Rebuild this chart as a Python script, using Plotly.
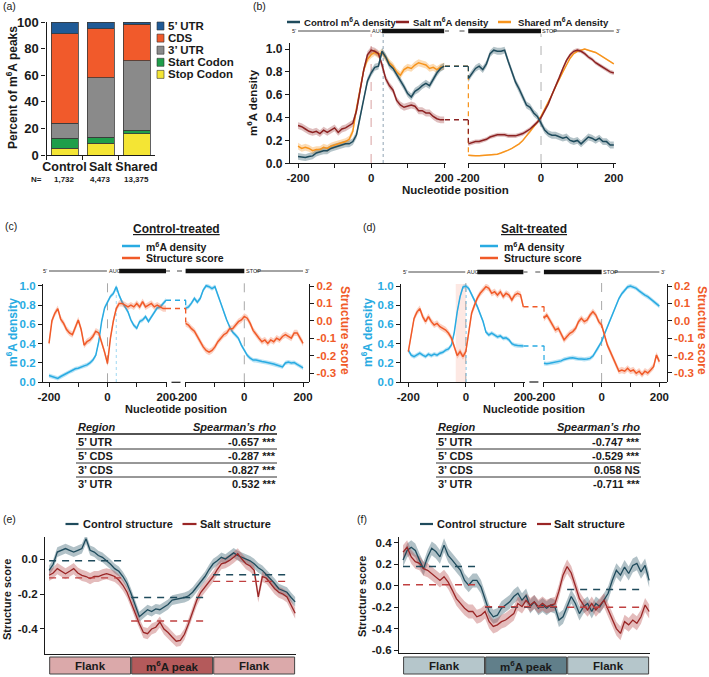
import plotly.graph_objects as go

W, H = 709, 677
FONT = "Liberation Sans, Arial, Helvetica, sans-serif"


def PX(x):
    return x / W


def PY(y):
    return 1 - y / H


# ======================= DATA =======================
# (a) percent of m6A peaks per region
a_groups = ["Control", "Salt", "Shared"]
a_counts = ["1,732", "4,473", "13,375"]
a_stop_codon = [5, 9, 16]
a_start_codon = [7.5, 4.5, 2.5]
a_utr3 = [11.5, 44.5, 52.5]
a_cds = [67, 37, 27.5]
a_utr5 = [9, 5, 1.5]

# (b)-(d) metagene positions
pos = list(range(-200, 201, 10))

# (b) m6A density
b_ctrl_left = [0.06, 0.055, 0.05, 0.06, 0.065, 0.09, 0.10, 0.11, 0.11, 0.13,
               0.14, 0.15, 0.16, 0.17, 0.17, 0.19, 0.25, 0.40, 0.58, 0.72,
               0.79, 0.84, 0.85, 0.98, 0.93, 0.86, 0.83, 0.78, 0.72, 0.67,
               0.61, 0.58, 0.63, 0.65, 0.68, 0.70, 0.68, 0.74, 0.79, 0.83, 0.85]
b_salt_left = [0.33, 0.32, 0.30, 0.28, 0.27, 0.28, 0.26, 0.29, 0.27, 0.29,
               0.31, 0.27, 0.30, 0.31, 0.33, 0.35, 0.46, 0.63, 0.82, 0.95,
               0.99, 0.98, 0.96, 0.86, 0.74, 0.68, 0.64, 0.55, 0.51, 0.49,
               0.50, 0.51, 0.50, 0.46, 0.46, 0.44, 0.44, 0.41, 0.39, 0.38, 0.38]
b_shared_left = [0.15, 0.13, 0.14, 0.13, 0.11, 0.12, 0.12, 0.14, 0.13, 0.15,
                 0.16, 0.17, 0.18, 0.19, 0.21, 0.28, 0.48, 0.66, 0.82, 0.91,
                 0.95, 0.97, 0.95, 0.97, 0.92, 0.88, 0.85, 0.80, 0.77, 0.82,
                 0.84, 0.83, 0.86, 0.88, 0.87, 0.86, 0.83, 0.84, 0.82, 0.84, 0.85]
b_ctrl_right = [0.74, 0.79, 0.83, 0.85, 0.82, 0.87, 0.96, 0.99, 0.98, 0.98,
                0.99, 0.89, 0.80, 0.71, 0.65, 0.58, 0.51, 0.49, 0.44, 0.41,
                0.35, 0.29, 0.26, 0.245, 0.245, 0.23, 0.22, 0.23, 0.20, 0.19,
                0.20, 0.17, 0.20, 0.23, 0.22, 0.20, 0.22, 0.19, 0.19, 0.16, 0.16]
b_salt_right = [0.17, 0.18, 0.19, 0.19, 0.20, 0.21, 0.23, 0.24, 0.25, 0.25,
                0.25, 0.24, 0.24, 0.24, 0.25, 0.26, 0.28, 0.30, 0.33, 0.36,
                0.40, 0.46, 0.52, 0.60, 0.67, 0.75, 0.83, 0.90, 0.95, 0.98,
                0.99, 0.98, 0.96, 0.93, 0.91, 0.88, 0.86, 0.84, 0.82, 0.80, 0.79]
b_shared_right = [0.07, 0.066, 0.065, 0.066, 0.068, 0.07, 0.072, 0.076, 0.08, 0.09,
                  0.10, 0.115, 0.13, 0.15, 0.17, 0.20, 0.24, 0.27, 0.31, 0.36,
                  0.41, 0.47, 0.53, 0.60, 0.67, 0.74, 0.80, 0.86, 0.92, 0.96,
                  0.98, 0.99, 1.0, 0.99, 0.98, 0.97, 0.95, 0.93, 0.91, 0.89, 0.87]
b_ctrl_err, b_salt_err, b_shared_err = 0.03, 0.03, 0.03

# (c) control-treated
c_m6a_left = [0.07, 0.06, 0.05, 0.04, 0.06, 0.076, 0.09, 0.11, 0.12, 0.14,
              0.145, 0.16, 0.17, 0.18, 0.20, 0.23, 0.28, 0.42, 0.63, 0.77,
              0.83, 0.89, 0.92, 0.99, 0.90, 0.83, 0.78, 0.73, 0.645, 0.59,
              0.56, 0.63, 0.645, 0.68, 0.63, 0.68, 0.73, 0.77, 0.78, 0.82, 0.85]
c_str_left = [-0.13, 0.0, 0.043, 0.07, 0.01, -0.015, -0.05, -0.07, -0.08, -0.04,
              0.005, -0.05, -0.14, -0.12, -0.11, -0.09, -0.06, -0.07, -0.12, -0.18,
              -0.245, -0.10, 0.0, 0.07, 0.10, 0.10, 0.09, 0.08, 0.09, 0.08,
              0.10, 0.08, 0.11, 0.08, 0.09, 0.10, 0.08, 0.09, 0.08, 0.07, 0.07]
c_m6a_right = [0.765, 0.78, 0.82, 0.87, 0.83, 0.87, 0.955, 1.0, 0.99, 0.97,
               0.99, 0.90, 0.83, 0.73, 0.645, 0.575, 0.52, 0.49, 0.455, 0.385,
               0.335, 0.28, 0.25, 0.23, 0.23, 0.22, 0.215, 0.21, 0.205, 0.20,
               0.19, 0.18, 0.17, 0.16, 0.20, 0.21, 0.20, 0.205, 0.185, 0.17, 0.15]
c_str_right = [-0.015, -0.025, -0.045, -0.06, -0.09, -0.12, -0.15, -0.17, -0.18, -0.17,
               -0.15, -0.12, -0.10, -0.08, -0.07, -0.045, -0.045, -0.025, -0.005, 0.005,
               0.025, 0.015, -0.015, -0.055, -0.08, -0.10, -0.12, -0.11, -0.13, -0.11,
               -0.12, -0.10, -0.11, -0.09, -0.08, -0.09, -0.10, -0.07, -0.07, -0.10, -0.13]

# (d) salt-treated
d_m6a_left = [0.333, 0.28, 0.264, 0.28, 0.30, 0.28, 0.264, 0.29, 0.275, 0.29,
              0.28, 0.30, 0.31, 0.333, 0.344, 0.385, 0.52, 0.73, 0.89, 0.99,
              1.0, 0.975, 0.92, 0.85, 0.785, 0.715, 0.63, 0.52, 0.49, 0.51,
              0.49, 0.47, 0.48, 0.455, 0.46, 0.44, 0.40, 0.385, 0.38, 0.375, 0.375]
d_str_left = [-0.177, -0.08, 0.014, 0.05, 0.07, 0.024, -0.005, 0.024, -0.005, -0.024,
              -0.015, -0.034, -0.043, -0.053, -0.072, -0.10, -0.15, -0.20, -0.177, -0.206,
              -0.177, -0.08, 0.043, 0.09, 0.13, 0.158, 0.177, 0.196, 0.187, 0.158,
              0.167, 0.148, 0.167, 0.139, 0.158, 0.148, 0.12, 0.148, 0.158, 0.15, 0.08]
d_m6a_right = [0.195, 0.19, 0.195, 0.20, 0.205, 0.21, 0.22, 0.235, 0.246, 0.25,
               0.253, 0.245, 0.24, 0.24, 0.236, 0.24, 0.246, 0.27, 0.316, 0.36,
               0.42, 0.50, 0.576, 0.655, 0.733, 0.80, 0.87, 0.92, 0.958, 0.99,
               1.0, 0.99, 0.976, 0.95, 0.924, 0.905, 0.889, 0.865, 0.837, 0.81, 0.79]
d_str_right = [0.014, 0.033, 0.005, -0.024, -0.053, -0.043, -0.08, -0.11, -0.09, -0.072,
               -0.062, -0.043, -0.005, 0.014, -0.005, 0.005, 0.033, 0.052, 0.033, -0.005,
               -0.024, -0.08, -0.14, -0.177, -0.216, -0.254, -0.29, -0.283, -0.29, -0.273,
               -0.29, -0.283, -0.302, -0.29, -0.31, -0.29, -0.30, -0.283, -0.264, -0.197, -0.235]
cd_m6a_err, cd_str_err = 0.022, 0.018

# tables
tbl_regions = ["5’ UTR", "5’ CDS", "3’ CDS", "3’ UTR"]
tbl_ctrl_rho = [-0.657, -0.287, -0.827, 0.532]
tbl_ctrl_sig = ["***", "***", "***", "***"]
tbl_salt_rho = [-0.747, -0.529, 0.058, -0.711]
tbl_salt_sig = ["***", "***", "NS", "***"]

# (e)/(f) structure around m6A peaks
ef_pos = list(range(0, 301, 5))
ef_regions = [("Flank", 0, 100), ("m<sup>6</sup>A peak", 100, 200), ("Flank", 200, 300)]
e_ctrl = [-0.065, -0.03, 0.04, 0.05, 0.06, 0.05, 0.04, 0.05, 0.06, 0.116,
          0.05, 0.04, 0.02, 0.01, -0.008, -0.03, -0.055, -0.07, -0.10, -0.14,
          -0.198, -0.27, -0.33, -0.31, -0.29, -0.30, -0.285, -0.29, -0.275, -0.26,
          -0.235, -0.23, -0.225, -0.22, -0.21, -0.19, -0.16, -0.13, -0.10, -0.06,
          -0.027, -0.01, 0.01, 0.0, 0.02, 0.035, 0.02, 0.01, 0.002, -0.01,
          -0.027, -0.05, -0.065, -0.09, -0.11, -0.14, -0.17, -0.18, -0.19, -0.22, -0.245]
e_salt = [-0.093, -0.08, -0.055, -0.07, -0.084, -0.07, -0.055, -0.08, -0.093, -0.10,
          -0.112, -0.10, -0.10, -0.09, -0.084, -0.09, -0.10, -0.12, -0.15, -0.19,
          -0.246, -0.31, -0.37, -0.42, -0.427, -0.40, -0.39, -0.36, -0.40, -0.42,
          -0.446, -0.47, -0.465, -0.43, -0.37, -0.30, -0.236, -0.19, -0.16, -0.13,
          -0.10, -0.06, -0.027, -0.02, -0.008, 0.01, 0.03, 0.0, -0.027, -0.04,
          -0.065, -0.217, -0.10, -0.11, -0.14, -0.17, -0.19, -0.20, -0.217, -0.26, -0.31]
e_ctrl_mean = [-0.01, -0.22, -0.09]
e_salt_mean = [-0.108, -0.354, -0.128]
e_ctrl_err, e_salt_err = 0.028, 0.032

f_ctrl = [0.24, 0.33, 0.36, 0.33, 0.24, 0.16, 0.27, 0.35, 0.32, 0.27,
          0.38, 0.285, 0.24, 0.19, 0.145, 0.05, 0.005, 0.05, 0.05, -0.01,
          -0.135, -0.24, -0.29, -0.275, -0.21, -0.18, -0.15, -0.10, -0.07, -0.135,
          -0.09, -0.195, -0.15, -0.21, -0.18, -0.21, -0.18, -0.195, -0.32, -0.29,
          -0.195, -0.10, -0.165, -0.26, -0.195, -0.165, -0.24, -0.165, -0.195, -0.135,
          -0.07, 0.05, 0.145, 0.10, 0.175, 0.115, 0.19, 0.21, 0.13, 0.19, 0.05]
f_salt = [0.315, 0.36, 0.27, 0.225, 0.21, 0.16, 0.145, 0.115, 0.085, 0.05,
          0.085, 0.035, -0.04, -0.12, -0.165, -0.21, -0.24, -0.24, -0.29, -0.275,
          -0.24, -0.335, -0.38, -0.365, -0.335, -0.32, -0.29, -0.26, -0.165, -0.195,
          -0.135, -0.18, -0.15, -0.195, -0.165, -0.195, -0.18, -0.17, -0.05, 0.10,
          0.18, 0.12, 0.0, -0.12, -0.18, -0.225, -0.165, -0.225, -0.18, -0.135,
          -0.225, -0.305, -0.40, -0.445, -0.335, -0.365, -0.32, -0.35, -0.29, -0.18, -0.24]
f_ctrl_mean = [0.18, -0.2, -0.035]
f_salt_mean = [0.01, -0.196, -0.2]
f_ctrl_err, f_salt_err = 0.065, 0.065

# ======================= STYLE =======================
C_UTR5, C_CDS, C_UTR3, C_START, C_STOP = "#1f5a96", "#f15a2b", "#8a8a8a", "#1f9e4a", "#f4e534"
TEAL, TEAL_B = "#1f4b5c", "rgba(31,75,92,0.33)"
DRED, DRED_B = "#8c2222", "rgba(150,40,40,0.30)"
ORNG, ORNG_B = "#f7941d", "rgba(247,148,29,0.33)"
BLUE, BLUE_B = "#29abe2", "rgba(41,171,226,0.33)"
RORG, RORG_B = "#f05a28", "rgba(240,90,40,0.28)"
EF_TEAL_B, EF_RED_B = "rgba(60,100,115,0.40)", "rgba(185,80,80,0.38)"
EF_RED = "#9a2626"
BLACK = "#1a1a1a"

# layout boxes (pixels)
A_X, A_Y = (46.5, 154.5), (22, 155)
B_XL, B_XR, B_Y = (290, 446), (467.5, 616), (43.3, 163.3)
C_XL, C_XR, C_Y = (43, 167), (185, 309), (284, 382.3)
D_XL, D_XR, D_Y = (401, 524.5), (543.3, 666.7), (284, 382)
E_X, E_Y = (45, 296), (537, 654)
F_X, F_Y = (399, 650), (537, 653)


def dx(p):
    return [PX(p[0]), PX(p[1])]


def dy(p):
    return [PY(p[1]), PY(p[0])]


fig = go.Figure()
shapes = []
anns = []


def text(x, y, s, size=11, color=BLACK, xanchor="center", yanchor="middle", angle=0,
         bold=True, italic=False, xref="paper", yref="paper"):
    if bold:
        s = "<b>" + s + "</b>"
    if italic:
        s = "<i>" + s + "</i>"
    anns.append(dict(x=PX(x) if xref == "paper" else x, y=PY(y) if yref == "paper" else y,
                     xref=xref, yref=yref, text=s, showarrow=False, textangle=angle,
                     font=dict(family=FONT, size=size, color=color),
                     xanchor=xanchor, yanchor=yanchor, borderpad=0))


def pline(x0, x1, y0, y1, color, width=1, dash="solid"):
    shapes.append(dict(type="line", xref="paper", yref="paper", x0=PX(x0), x1=PX(x1),
                       y0=PY(y0), y1=PY(y1), line=dict(color=color, width=width, dash=dash)))


def prect(x0, x1, y0, y1, fill, lc="#333", lw=0.8):
    shapes.append(dict(type="rect", xref="paper", yref="paper", x0=PX(x0), x1=PX(x1),
                       y0=PY(y1), y1=PY(y0), fillcolor=fill, line=dict(color=lc, width=lw)))


def band(x, y, err, color, xa, ya):
    xs = list(x) + list(x)[::-1]
    ys = [v + err for v in y] + [v - err for v in y][::-1]
    fig.add_trace(go.Scatter(x=xs, y=ys, fill="toself", fillcolor=color, mode="lines",
                             line=dict(width=0), hoverinfo="skip", showlegend=False,
                             xaxis=xa, yaxis=ya))


def line(x, y, color, xa, ya, width=1.5):
    fig.add_trace(go.Scatter(x=x, y=y, mode="lines", line=dict(color=color, width=width),
                             hoverinfo="skip", showlegend=False, xaxis=xa, yaxis=ya))


def tickfont(size=12, color=BLACK):
    return dict(family=FONT, size=size, color=color, weight="bold")


def axstyle(**kw):
    d = dict(showline=True, linecolor=BLACK, linewidth=1.2, ticks="outside", ticklen=4,
             tickwidth=1.1, tickcolor=BLACK, showgrid=False, zeroline=False, automargin=False,
             tickfont=tickfont(), fixedrange=True, tickangle=0)
    d.update(kw)
    return d


# ======================= (a) =======================
for name, vals, col in [("Stop Codon", a_stop_codon, C_STOP), ("Start Codon", a_start_codon, C_START),
                        ("3’ UTR", a_utr3, C_UTR3), ("CDS", a_cds, C_CDS), ("5’ UTR", a_utr5, C_UTR5)]:
    fig.add_trace(go.Bar(x=a_groups, y=vals, name=name, width=0.75,
                         marker=dict(color=col, line=dict(color="#3a3a3a", width=0.8)),
                         showlegend=False, hoverinfo="skip", xaxis="x", yaxis="y"))

for i, (lab, col) in enumerate([("5’ UTR", C_UTR5), ("CDS", C_CDS), ("3’ UTR", C_UTR3),
                                ("Start Codon", C_START), ("Stop Codon", C_STOP)]):
    yy = 26 + 12.1 * i
    prect(157, 164, yy - 4, yy + 4, col, "#333", 0.6)
    text(167, yy, lab, 11.5, xanchor="left")
text(36, 179, "N=", 8)
for g, n in zip(a_groups, a_counts):
    text(g, 179, n, 8, xref="x")
text(12, 88, "Percent of m<sup>6</sup>A peaks", 12, angle=-90)


# ======================= gene diagrams =======================
def gene(xl, xr, y, lbox, rbox, cds_start):
    fs = 5.5
    text(-202, y, "5’", fs, xref=xl, xanchor="right", bold=False)
    shapes.append(dict(type="line", xref=xl, yref="paper", x0=-200, x1=-2, y0=PY(y), y1=PY(y),
                       line=dict(color="#333", width=0.9)))
    text(0, y, "AUG", fs, xref=xl, xanchor="left", bold=False)
    shapes.append(dict(type="rect", xref=xl, yref="paper", x0=cds_start, x1=200, y0=PY(y + 2.2),
                       y1=PY(y - 2.2), fillcolor="#111", line=dict(width=0)))
    pline(lbox[1] - 1, lbox[1] + 3, y, y, "#333", 0.9)
    pline(rbox[0] - 8, rbox[0] - 3, y, y, "#333", 0.9)
    shapes.append(dict(type="rect", xref=xr, yref="paper", x0=-200, x1=0, y0=PY(y + 2.2),
                       y1=PY(y - 2.2), fillcolor="#111", line=dict(width=0)))
    text(1, y, "STOP", fs, xref=xr, xanchor="left", bold=False)
    shapes.append(dict(type="line", xref=xr, yref="paper", x0=cds_start, x1=200, y0=PY(y), y1=PY(y),
                       line=dict(color="#333", width=0.9)))
    text(203, y, "3’", fs, xref=xr, xanchor="left", bold=False)


def vline(xa, x, y0, y1, color, dash, width=1):
    shapes.append(dict(type="line", xref=xa, yref="paper", x0=x, x1=x, y0=PY(y0), y1=PY(y1),
                       line=dict(color=color, width=width, dash=dash), layer="below"))


def connector(left_vals, right_vals, ya, xr, lbox, rbox, color):
    shapes.append(dict(type="line", xref="paper", yref=ya, x0=PX(lbox[1] - 1), x1=PX(rbox[0] + 1),
                       y0=left_vals[-1], y1=left_vals[-1], line=dict(color=color, width=1.5, dash="5px,4px")))
    shapes.append(dict(type="line", xref=xr, yref=ya, x0=-200, x1=-200,
                       y0=left_vals[-1], y1=right_vals[0], line=dict(color=color, width=1.5, dash="5px,4px")))


# ======================= (b) =======================
for yl, err, col in [(b_shared_left, b_shared_err, ORNG_B), (b_salt_left, b_salt_err, DRED_B),
                     (b_ctrl_left, b_ctrl_err, TEAL_B)]:
    band(pos, yl, err, col, "x2", "y2")
band(pos, b_shared_right, 0.006, ORNG_B, "x3", "y2")
band(pos, b_salt_right, 0.018, DRED_B, "x3", "y2")
band(pos, b_ctrl_right, b_ctrl_err, TEAL_B, "x3", "y2")
for yl, yr, col in [(b_shared_left, b_shared_right, ORNG), (b_salt_left, b_salt_right, DRED),
                    (b_ctrl_left, b_ctrl_right, TEAL)]:
    line(pos, yl, col, "x2", "y2")
    line(pos, yr, col, "x3", "y2")
vline("x2", 0, 163, 34, "#d8a0a0", "dash")
vline("x2", 33, 163, 34, "#8fa3b3", "dot")
vline("x3", 0, 163, 34, "#b0b0b0", "dash")
connector(b_shared_left, b_shared_right, "y2", "x3", B_XL, B_XR, ORNG)
connector(b_salt_left, b_salt_right, "y2", "x3", B_XL, B_XR, DRED)
connector(b_ctrl_left, b_ctrl_right, "y2", "x3", B_XL, B_XR, TEAL)
gene("x2", "x3", 31, B_XL, B_XR, 30)
for x0, col, lab, tx in [(287, TEAL, "Control m<sup>6</sup>A density", 303),
                         (396, DRED, "Salt m<sup>6</sup>A density", 412),
                         (498, ORNG, "Shared m<sup>6</sup>A density", 517)]:
    pline(x0, x0 + 13, 22, 22, col, 2.5)
    text(tx, 22, lab, 9.6, xanchor="left")
text(252, 103, "m<sup>6</sup>A density", 11.5, angle=-90)
text(455, 190, "Nucleotide position", 11.5)


# ======================= (c) / (d) =======================
def struct_panel(xl, xr, ym, ys, m_l, m_r, s_l, s_r, lbox, rbox, ybox):
    band(pos, s_l, cd_str_err, RORG_B, xl, ys)
    band(pos, s_r, cd_str_err, RORG_B, xr, ys)
    band(pos, m_l, cd_m6a_err, BLUE_B, xl, ym)
    band(pos, m_r, cd_m6a_err, BLUE_B, xr, ym)
    line(pos, s_l, RORG, xl, ys)
    line(pos, s_r, RORG, xr, ys)
    line(pos, m_l, BLUE, xl, ym)
    line(pos, m_r, BLUE, xr, ym)
    connector(m_l, m_r, ym, xr, lbox, rbox, BLUE)
    connector(s_l, s_r, ys, xr, lbox, rbox, RORG)
    mid = (lbox[1] + rbox[0]) / 2
    pline(mid - 4.5, mid + 4.5, ybox[1], ybox[1], BLACK, 1.2)
    vline(xl, 0, ybox[1], 276, "#a8a8a8", "dash")
    vline(xr, 0, ybox[1], 276, "#a8a8a8", "dash")


struct_panel("x4", "x5", "y3", "y4", c_m6a_left, c_m6a_right, c_str_left, c_str_right, C_XL, C_XR, C_Y)
vline("x4", 30, 382, 288, "#9fd9f2", "dot")
struct_panel("x6", "x7", "y5", "y6", d_m6a_left, d_m6a_right, d_str_left, d_str_right, D_XL, D_XR, D_Y)
vline("x6", 1, 382, 288, "#7fc8ea", "dot")
shapes.append(dict(type="rect", xref="x6", yref="paper", x0=-35, x1=0, y0=PY(382), y1=PY(284),
                   fillcolor="rgba(240,110,80,0.16)", line=dict(width=0), layer="below"))
gene("x4", "x5", 271, C_XL, C_XR, 40)
gene("x6", "x7", 272, D_XL, D_XR, 40)

for cx, ttl, lx in [(176, "Control-treated", 122), (534, "Salt-treated", 480)]:
    text(cx, 229, "<u>" + ttl + "</u>", 12)
    pline(lx, lx + 18, 246, 246, BLUE, 2.5)
    text(lx + 23, 246, "m<sup>6</sup>A density", 10.5, xanchor="left")
    pline(lx, lx + 18, 258, 258, RORG, 2.5)
    text(lx + 23, 258, "Structure score", 10.5, xanchor="left")
    text(cx, 408.5, "Nucleotide position", 11)
text(12, 333, "m<sup>6</sup>A density", 12, BLUE, angle=-90)
text(345, 330, "Structure score", 12, RORG, angle=90)
text(367, 333, "m<sup>6</sup>A density", 12, BLUE, angle=-90)
text(702, 330, "Structure score", 12, RORG, angle=90)


# ======================= tables =======================
def table(x0, x1, rho, sig):
    text(x0 + 1, 427, "Region", 11, italic=True, xanchor="left")
    text(x1, 427, "Spearman’s rho", 11, italic=True, xanchor="right")
    pline(x0, x1, 434, 434, BLACK, 1.6)
    for i, (reg, r, s) in enumerate(zip(tbl_regions, rho, sig)):
        yy = 442 + 14 * i
        text(x0 + 1, yy, reg, 11, xanchor="left")
        text(x1, yy, f"{r:.3f} {s}", 11, xanchor="right")
        if i < len(rho) - 1:
            pline(x0, x1, yy + 7, yy + 7, BLACK, 0.9)


table(76, 277, tbl_ctrl_rho, tbl_ctrl_sig)
table(436, 641, tbl_salt_rho, tbl_salt_sig)


# ======================= (e) / (f) =======================
def peak_panel(xa, ya, ctrl, salt, ce, se, cm, sm, fills, box_y, leg_x):
    band(ef_pos, ctrl, ce, EF_TEAL_B, xa, ya)
    band(ef_pos, salt, se, EF_RED_B, xa, ya)
    line(ef_pos, ctrl, TEAL, xa, ya, 1.3)
    line(ef_pos, salt, EF_RED, xa, ya, 1.3)
    for (lab, r0, r1), mc, ms, fc in zip(ef_regions, cm, sm, fills):
        shapes.append(dict(type="line", xref=xa, yref=ya, x0=r0, x1=r1 - 7, y0=mc, y1=mc,
                           line=dict(color=TEAL, width=1.4, dash="7px,6px")))
        shapes.append(dict(type="line", xref=xa, yref=ya, x0=r0, x1=r1 - 7, y0=ms, y1=ms,
                           line=dict(color="#c04040", width=1.4, dash="7px,6px")))
        shapes.append(dict(type="rect", xref=xa, yref="paper", x0=r0 + 0.7, x1=r1 - 0.7,
                           y0=PY(box_y[1]), y1=PY(box_y[0]), fillcolor=fc,
                           line=dict(color="#444", width=1)))
        text((r0 + r1) / 2, (box_y[0] + box_y[1]) / 2 + 0.5, lab, 11.5, xref=xa)
    pline(leg_x, leg_x + 13, 524, 524, TEAL, 2.2)
    text(leg_x + 16, 524, "Control structure", 11, xanchor="left")
    pline(leg_x + 117, leg_x + 131, 524, 524, EF_RED, 2.2)
    text(leg_x + 133, 524, "Salt structure", 11, xanchor="left")


peak_panel("x8", "y7", e_ctrl, e_salt, e_ctrl_err, e_salt_err, e_ctrl_mean, e_salt_mean,
           ["#dba9aa", "#b45a5b", "#dba9aa"], (657, 674), 65.5)
peak_panel("x9", "y8", f_ctrl, f_salt, f_ctrl_err, f_salt_err, f_ctrl_mean, f_salt_mean,
           ["#b5c6cb", "#617f8a", "#b5c6cb"], (657, 674), 420)
text(7, 600, "Structure score", 11, angle=-90)
text(362, 597, "Structure score", 11, angle=-90)

# panel labels
for lab, x, y in [("(a)", 2, 6), ("(b)", 252, 6), ("(c)", 4, 226), ("(d)", 362, 227),
                  ("(e)", 2, 519), ("(f)", 356, 519)]:
    text(x, y, lab, 10.5, xanchor="left", bold=False)

# ======================= LAYOUT =======================
ytk = [0, 0.2, 0.4, 0.6, 0.8, 1.0]
ytx = ["0.0", "0.2", "0.4", "0.6", "0.8", "1.0"]
xtk = [-200, -100, 0, 100, 200]
xtx = ["-200", "", "0", "", "200"]
stk = [-0.3, -0.2, -0.1, 0.0, 0.1, 0.2]
stx = ["-0.3", "-0.2", "-0.1", "0.0", "0.1", "0.2"]

fig.update_layout(
    template="none",
    width=W, height=H, autosize=False, margin=dict(l=0, r=0, t=0, b=0, pad=0, autoexpand=False),
    paper_bgcolor="white", plot_bgcolor="rgba(0,0,0,0)", barmode="stack",
    hovermode=False, showlegend=False, font=dict(family=FONT, color=BLACK),
    shapes=shapes, annotations=anns,
    xaxis=axstyle(domain=dx(A_X), anchor="y", type="category", range=[-0.5, 2.5],
                  tickson="boundaries", tickfont=tickfont(12.5)),
    yaxis=axstyle(domain=dy(A_Y), anchor="x", range=[0, 100], tickvals=[0, 20, 40, 60, 80, 100],
                  tickfont=tickfont(13)),
    xaxis2=axstyle(domain=dx(B_XL), anchor="y2", range=[-222, 205], tickvals=xtk, ticktext=xtx,
                   tickfont=tickfont(11.5)),
    xaxis3=axstyle(domain=dx(B_XR), anchor="y2", range=[-202, 206], tickvals=xtk, ticktext=xtx,
                   tickfont=tickfont(11.5)),
    yaxis2=axstyle(domain=dy(B_Y), anchor="x2", range=[0, 1.05], tickvals=ytk, ticktext=ytx),
    xaxis4=axstyle(domain=dx(C_XL), anchor="y3", range=[-220.5, 203.4], tickvals=xtk, ticktext=xtx,
                   tickfont=tickfont(11.5)),
    xaxis5=axstyle(domain=dx(C_XR), anchor="y3", range=[-202, 220.3], tickvals=xtk, ticktext=xtx,
                   tickfont=tickfont(11.5)),
    yaxis3=axstyle(domain=dy(C_Y), anchor="x4", range=[0, 1.018], tickvals=ytk, ticktext=ytx,
                   tickfont=tickfont(11.5, BLUE)),
    yaxis4=axstyle(domain=dy(C_Y), anchor="x5", side="right", range=[-0.3534, 0.2115], tickvals=stk,
                   ticktext=stx, tickfont=tickfont(11.5, RORG)),
    xaxis6=axstyle(domain=dx(D_XL), anchor="y5", range=[-225.4, 204], tickvals=xtk, ticktext=xtx,
                   tickfont=tickfont(11.5)),
    xaxis7=axstyle(domain=dx(D_XR), anchor="y5", range=[-202, 225.5], tickvals=xtk, ticktext=xtx,
                   tickfont=tickfont(11.5)),
    yaxis5=axstyle(domain=dy(D_Y), anchor="x6", range=[0, 1.021], tickvals=ytk, ticktext=ytx,
                   tickfont=tickfont(11.5, BLUE)),
    yaxis6=axstyle(domain=dy(D_Y), anchor="x7", side="right", range=[-0.352, 0.2115], tickvals=stk,
                   ticktext=stx, tickfont=tickfont(11.5, RORG)),
    xaxis8=axstyle(domain=dx(E_X), anchor="y7", range=[-5, 301], ticks="", showticklabels=False),
    yaxis7=axstyle(domain=dy(E_Y), anchor="x8", range=[-0.543, 0.126], tickvals=[-0.4, -0.2, 0.0],
                   ticktext=["-0.4", "-0.2", "0.0"], tickfont=tickfont(11.5)),
    xaxis9=axstyle(domain=dx(F_X), anchor="y8", range=[-4.9, 301], ticks="", showticklabels=False),
    yaxis8=axstyle(domain=dy(F_Y), anchor="x9", range=[-0.628, 0.456],
                   tickvals=[-0.6, -0.4, -0.2, 0.0, 0.2, 0.4],
                   ticktext=["-0.6", "-0.4", "-0.2", "0.0", "0.2", "0.4"], tickfont=tickfont(11.5)),
)

fig.write_html("out.html", config={"displayModeBar": False},
               post_script="document.body.style.margin='0px';")
